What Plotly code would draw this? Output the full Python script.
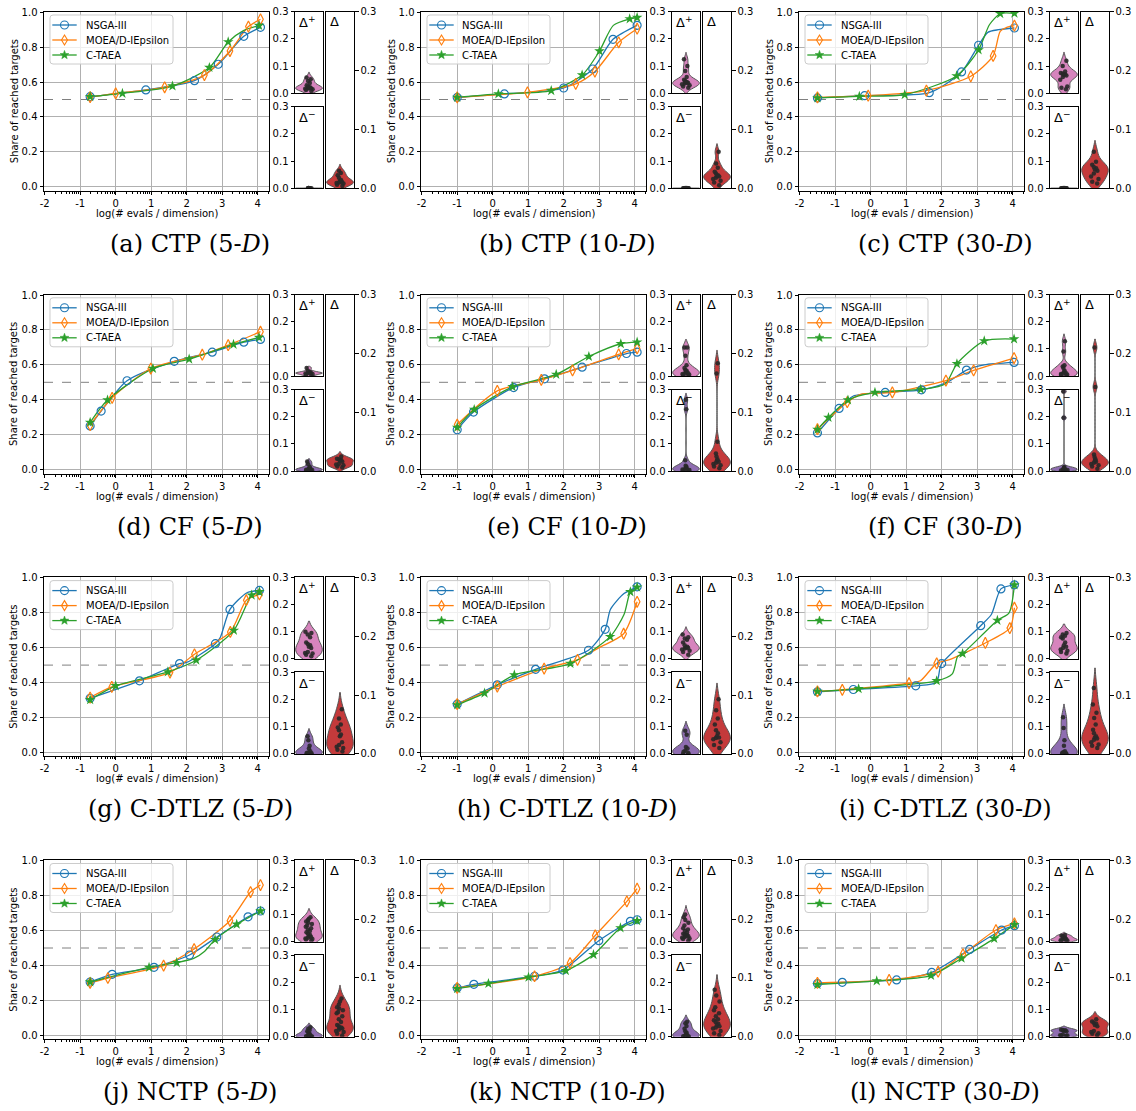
import numpy as np
import plotly.graph_objects as go

W, H = 1136, 1111

# ---------------- general labels / ticks ----------------
ALGOS = ["NSGA-III", "MOEA/D-IEpsilon", "C-TAEA"]
ALGO_COLORS = ["#1f77b4", "#ff7f0e", "#2ca02c"]
ALGO_SYMBOLS = ["circle-open", "diamond-tall-open", "star"]
ALGO_SIZES = [8, 8, 8]
VIOLIN_COLORS = ["#d684bd", "#8f6db1", "#c43a3b"]
VIOLIN_LABELS = ["Δ<sup>+</sup>", "Δ<sup>−</sup>", "Δ"]
X_TICKS = [-2, -1, 0, 1, 2, 3, 4]
X_TICK_TEXT = ["-2", "-1", "0", "1", "2", "3", "4"]
Y_TICKS = [0.0, 0.2, 0.4, 0.6, 0.8, 1.0]
Y_TICK_TEXT = ["0.0", "0.2", "0.4", "0.6", "0.8", "1.0"]
D_TICKS = [0.0, 0.1, 0.2, 0.3]
D_TICK_TEXT = ["0.0", "0.1", "0.2", "0.3"]
THRESHOLD = 0.5
Y_TITLE = "Share of reached targets"
X_TITLE = "log(# evals / dimension)"
CAPTIONS = [
    "(a) CTP (5-<i>D</i>)", "(b) CTP (10-<i>D</i>)", "(c) CTP (30-<i>D</i>)",
    "(d) CF (5-<i>D</i>)", "(e) CF (10-<i>D</i>)", "(f) CF (30-<i>D</i>)",
    "(g) C-DTLZ (5-<i>D</i>)", "(h) C-DTLZ (10-<i>D</i>)", "(i) C-DTLZ (30-<i>D</i>)",
    "(j) NCTP (5-<i>D</i>)", "(k) NCTP (10-<i>D</i>)", "(l) NCTP (30-<i>D</i>)",
]

# ---------------- (a) CTP 5-D ----------------
CTP5_NSGA_X = [-0.72, 0.85, 2.22, 2.89, 3.61, 4.08]
CTP5_NSGA_Y = [0.516, 0.555, 0.608, 0.702, 0.862, 0.914]
CTP5_NSGA_EXTRA = []
CTP5_MOEA_X = [-0.72, 0.0, 1.38, 2.5, 3.22, 3.74, 4.08]
CTP5_MOEA_Y = [0.514, 0.535, 0.57, 0.64, 0.778, 0.918, 0.96]
CTP5_MOEA_EXTRA = []
CTP5_CTAEA_X = [-0.72, 0.19, 1.6, 2.64, 3.17, 4.04]
CTP5_CTAEA_Y = [0.516, 0.535, 0.577, 0.683, 0.83, 0.924]
CTP5_CTAEA_EXTRA = [(3.6, 0.895)]
CTP5_DPLUS = [0.008, 0.012, 0.015, 0.017, 0.018, 0.019, 0.02, 0.022, 0.025, 0.03, 0.038, 0.045, 0.052, 0.058]
CTP5_DMINUS = [0.0, 0.0, 0.0, 0.0005, 0.001, 0.0, 0.0008, 0.0, 0.0003, 0.0]
CTP5_DELTA = [0.004, 0.006, 0.008, 0.009, 0.01, 0.011, 0.012, 0.014, 0.018, 0.022, 0.026, 0.03]

# ---------------- (b) CTP 10-D ----------------
CTP10_NSGA_X = [-1.0, 0.33, 2.0, 2.82, 3.39, 4.07]
CTP10_NSGA_Y = [0.512, 0.532, 0.566, 0.675, 0.845, 0.925]
CTP10_NSGA_EXTRA = []
CTP10_MOEA_X = [-1.0, 0.98, 2.34, 2.88, 3.55, 4.07]
CTP10_MOEA_Y = [0.512, 0.541, 0.589, 0.66, 0.828, 0.906]
CTP10_MOEA_EXTRA = []
CTP10_CTAEA_X = [-1.0, 0.16, 1.65, 2.52, 3.01, 3.86, 4.07]
CTP10_CTAEA_Y = [0.512, 0.532, 0.551, 0.64, 0.778, 0.962, 0.97]
CTP10_CTAEA_EXTRA = [(3.4, 0.925)]
CTP10_DPLUS = [0.02, 0.025, 0.03, 0.033, 0.036, 0.038, 0.04, 0.042, 0.045, 0.05, 0.06, 0.082, 0.1, 0.125]
CTP10_DMINUS = [0.0, 0.0, 0.0005, 0.001, 0.0, 0.0003, 0.0, 0.0008, 0.0]
CTP10_DELTA = [0.005, 0.01, 0.013, 0.016, 0.018, 0.02, 0.021, 0.022, 0.025, 0.028, 0.035, 0.042, 0.062]

# ---------------- (c) CTP 30-D ----------------
CTP30_NSGA_X = [-1.5, -0.17, 1.65, 2.56, 3.04, 4.05]
CTP30_NSGA_Y = [0.509, 0.522, 0.539, 0.658, 0.811, 0.910]
CTP30_NSGA_EXTRA = [(3.3, 0.885), (3.6, 0.9)]
CTP30_MOEA_X = [-1.5, -0.07, 1.57, 2.82, 3.45, 4.05]
CTP30_MOEA_Y = [0.512, 0.522, 0.551, 0.633, 0.75, 0.924]
CTP30_MOEA_EXTRA = [(3.65, 0.89), (3.85, 0.915)]
CTP30_CTAEA_X = [-1.5, -0.32, 0.96, 2.42, 3.04, 3.65, 4.05]
CTP30_CTAEA_Y = [0.509, 0.518, 0.528, 0.635, 0.784, 0.992, 0.994]
CTP30_CTAEA_EXTRA = [(3.35, 0.93)]
CTP30_DPLUS = [0.015, 0.02, 0.025, 0.05, 0.06, 0.065, 0.068, 0.07, 0.072, 0.075, 0.08, 0.1, 0.12]
CTP30_DMINUS = [0.0, 0.0, 0.0005, 0.001, 0.0, 0.0003, 0.0, 0.0008, 0.0]
CTP30_DELTA = [0.008, 0.011, 0.016, 0.02, 0.025, 0.03, 0.032, 0.034, 0.036, 0.04, 0.045, 0.062]

# ---------------- (d) CF 5-D ----------------
CF5_NSGA_X = [-0.72, -0.41, 0.32, 1.65, 2.72, 3.61, 4.08]
CF5_NSGA_Y = [0.25, 0.335, 0.509, 0.62, 0.673, 0.73, 0.746]
CF5_NSGA_EXTRA = []
CF5_MOEA_X = [-0.72, -0.1, 0.99, 2.44, 3.17, 4.08]
CF5_MOEA_Y = [0.254, 0.411, 0.579, 0.658, 0.713, 0.79]
CF5_MOEA_EXTRA = []
CF5_CTAEA_X = [-0.72, -0.23, 1.05, 2.07, 3.32, 4.04]
CF5_CTAEA_Y = [0.27, 0.398, 0.579, 0.633, 0.717, 0.757]
CF5_CTAEA_EXTRA = []
CF5_DPLUS = [0.002, 0.005, 0.008, 0.01, 0.011, 0.012, 0.013, 0.015, 0.02, 0.03]
CF5_DMINUS = [0.0, 0.002, 0.004, 0.005, 0.006, 0.008, 0.01, 0.015, 0.025, 0.035]
CF5_DELTA = [0.006, 0.008, 0.01, 0.011, 0.012, 0.016, 0.018, 0.019, 0.02, 0.021, 0.025]

# ---------------- (e) CF 10-D ----------------
CF10_NSGA_X = [-1.0, -0.54, 0.59, 1.46, 2.52, 3.77, 4.07]
CF10_NSGA_Y = [0.228, 0.329, 0.47, 0.52, 0.587, 0.665, 0.673]
CF10_NSGA_EXTRA = []
CF10_MOEA_X = [-1.0, 0.13, 1.37, 2.25, 3.55, 4.07]
CF10_MOEA_Y = [0.258, 0.451, 0.514, 0.568, 0.66, 0.694]
CF10_MOEA_EXTRA = []
CF10_CTAEA_X = [-1.0, -0.52, 0.56, 1.79, 2.71, 3.61, 4.07]
CF10_CTAEA_Y = [0.241, 0.344, 0.474, 0.545, 0.648, 0.721, 0.73]
CF10_CTAEA_EXTRA = []
CF10_DPLUS = [0.002, 0.004, 0.006, 0.008, 0.01, 0.012, 0.015, 0.02, 0.022, 0.03, 0.04, 0.075, 0.105, 0.105]
CF10_DMINUS = [0.0, 0.002, 0.004, 0.006, 0.008, 0.01, 0.012, 0.016, 0.02, 0.04, 0.227, 0.262]
CF10_DELTA = [0.005, 0.008, 0.01, 0.012, 0.014, 0.016, 0.018, 0.02, 0.025, 0.03, 0.05, 0.166, 0.183]

# ---------------- (f) CF 30-D ----------------
CF30_NSGA_X = [-1.5, -0.89, 0.41, 1.43, 2.70, 4.04]
CF30_NSGA_Y = [0.21, 0.35, 0.442, 0.457, 0.57, 0.614]
CF30_NSGA_EXTRA = [(-0.5, 0.42), (2.15, 0.50), (3.2, 0.6)]
CF30_MOEA_X = [-1.5, -0.66, 0.61, 2.12, 2.90, 4.04]
CF30_MOEA_Y = [0.231, 0.386, 0.442, 0.51, 0.568, 0.639]
CF30_MOEA_EXTRA = [(-0.3, 0.43)]
CF30_CTAEA_X = [-1.5, -1.19, -0.64, 0.12, 1.41, 2.43, 3.20, 4.04]
CF30_CTAEA_Y = [0.229, 0.298, 0.398, 0.442, 0.459, 0.606, 0.737, 0.748]
CF30_CTAEA_EXTRA = [(2.1, 0.49)]
CF30_DPLUS = [0.002, 0.004, 0.006, 0.008, 0.01, 0.012, 0.015, 0.02, 0.03, 0.035, 0.04, 0.09, 0.128]
CF30_DMINUS = [0.0, 0.002, 0.004, 0.006, 0.008, 0.01, 0.012, 0.015, 0.196, 0.293]
CF30_DELTA = [0.004, 0.008, 0.01, 0.012, 0.014, 0.016, 0.018, 0.02, 0.024, 0.028, 0.143, 0.21]

# ---------------- (g) C-DTLZ 5-D ----------------
CDTLZ5_NSGA_X = [-0.72, 0.67, 1.80, 2.81, 3.22, 4.05]
CDTLZ5_NSGA_Y = [0.31, 0.41, 0.509, 0.623, 0.819, 0.928]
CDTLZ5_NSGA_EXTRA = [(2.0, 0.515), (2.95, 0.66), (3.7, 0.915)]
CDTLZ5_MOEA_X = [-0.72, -0.11, 1.53, 2.22, 3.23, 3.68, 4.05]
CDTLZ5_MOEA_Y = [0.314, 0.375, 0.457, 0.562, 0.69, 0.872, 0.905]
CDTLZ5_MOEA_EXTRA = []
CDTLZ5_CTAEA_X = [-0.72, 0.0, 1.47, 2.27, 3.33, 3.83, 4.05]
CDTLZ5_CTAEA_Y = [0.301, 0.381, 0.461, 0.528, 0.699, 0.901, 0.92]
CDTLZ5_CTAEA_EXTRA = []
CDTLZ5_DPLUS = [0.01, 0.015, 0.02, 0.022, 0.025, 0.04, 0.045, 0.05, 0.055, 0.06, 0.08, 0.09, 0.095, 0.1]
CDTLZ5_DMINUS = [0.0, 0.001, 0.002, 0.003, 0.005, 0.01, 0.02, 0.03, 0.05, 0.065]
CDTLZ5_DELTA = [0.004, 0.007, 0.01, 0.012, 0.015, 0.02, 0.03, 0.033, 0.04, 0.045, 0.05, 0.06, 0.076]

# ---------------- (h) C-DTLZ 10-D ----------------
CDTLZ10_NSGA_X = [-1.0, 0.13, 1.21, 2.70, 3.17, 4.07]
CDTLZ10_NSGA_Y = [0.276, 0.387, 0.476, 0.585, 0.705, 0.949]
CDTLZ10_NSGA_EXTRA = [(3.32, 0.82), (3.7, 0.91)]
CDTLZ10_MOEA_X = [-1.0, 0.13, 1.45, 2.39, 3.69, 4.07]
CDTLZ10_MOEA_Y = [0.276, 0.377, 0.48, 0.53, 0.68, 0.863]
CDTLZ10_MOEA_EXTRA = [(3.0, 0.6)]
CDTLZ10_CTAEA_X = [-1.0, -0.23, 0.61, 2.19, 3.31, 3.88, 4.07]
CDTLZ10_CTAEA_Y = [0.272, 0.339, 0.444, 0.509, 0.663, 0.92, 0.947]
CDTLZ10_CTAEA_EXTRA = [(3.7, 0.79)]
CDTLZ10_DPLUS = [0.015, 0.025, 0.03, 0.035, 0.038, 0.04, 0.042, 0.045, 0.05, 0.06, 0.07, 0.075, 0.08, 0.09]
CDTLZ10_DMINUS = [0.0, 0.001, 0.003, 0.008, 0.012, 0.02, 0.025, 0.07, 0.085]
CDTLZ10_DELTA = [0.01, 0.015, 0.02, 0.025, 0.027, 0.028, 0.03, 0.035, 0.04, 0.05, 0.06, 0.074, 0.093]

# ---------------- (i) C-DTLZ 30-D ----------------
CDTLZ30_NSGA_X = [-1.5, -0.49, 1.27, 2.0, 3.1, 3.67, 4.05]
CDTLZ30_NSGA_Y = [0.347, 0.36, 0.381, 0.509, 0.726, 0.937, 0.96]
CDTLZ30_NSGA_EXTRA = [(1.85, 0.40), (1.95, 0.48), (3.4, 0.79)]
CDTLZ30_MOEA_X = [-1.5, -0.8, 1.08, 1.86, 3.23, 3.92, 4.05]
CDTLZ30_MOEA_Y = [0.35, 0.358, 0.396, 0.51, 0.627, 0.712, 0.829]
CDTLZ30_MOEA_EXTRA = [(1.4, 0.41), (2.2, 0.53)]
CDTLZ30_CTAEA_X = [-1.5, -0.34, 1.86, 2.59, 3.57, 4.05]
CDTLZ30_CTAEA_Y = [0.349, 0.364, 0.41, 0.566, 0.756, 0.96]
CDTLZ30_CTAEA_EXTRA = [(2.3, 0.45), (2.45, 0.55), (3.9, 0.8)]
CDTLZ30_DPLUS = [0.02, 0.025, 0.03, 0.035, 0.04, 0.045, 0.05, 0.06, 0.075, 0.08, 0.085, 0.09, 0.095]
CDTLZ30_DMINUS = [0.0, 0.001, 0.002, 0.004, 0.006, 0.01, 0.03, 0.05, 0.095, 0.135]
CDTLZ30_DELTA = [0.01, 0.014, 0.016, 0.02, 0.024, 0.026, 0.028, 0.03, 0.035, 0.041, 0.05, 0.061, 0.07, 0.084, 0.112]

# ---------------- (j) NCTP 5-D ----------------
NCTP5_NSGA_X = [-0.72, -0.1, 1.08, 2.08, 2.85, 3.73, 4.08]
NCTP5_NSGA_Y = [0.305, 0.349, 0.389, 0.46, 0.563, 0.679, 0.712]
NCTP5_NSGA_EXTRA = []
NCTP5_MOEA_X = [-0.72, -0.22, 1.35, 2.21, 3.22, 3.8, 4.08]
NCTP5_MOEA_Y = [0.3, 0.328, 0.399, 0.494, 0.656, 0.821, 0.861]
NCTP5_MOEA_EXTRA = []
NCTP5_CTAEA_X = [-0.72, 0.94, 1.72, 2.8, 3.41, 4.08]
NCTP5_CTAEA_Y = [0.305, 0.389, 0.416, 0.548, 0.636, 0.712]
NCTP5_CTAEA_EXTRA = [(2.2, 0.44), (2.5, 0.48)]
NCTP5_DPLUS = [0.005, 0.008, 0.01, 0.012, 0.015, 0.018, 0.02, 0.025, 0.03, 0.035, 0.04, 0.045, 0.05, 0.055, 0.06, 0.065, 0.07, 0.075, 0.08, 0.085, 0.09]
NCTP5_DMINUS = [0.0, 0.0, 0.001, 0.002, 0.003, 0.005, 0.008, 0.01, 0.015, 0.02, 0.025, 0.03, 0.035]
NCTP5_DELTA = [0.002, 0.005, 0.008, 0.01, 0.012, 0.014, 0.015, 0.016, 0.018, 0.02, 0.025, 0.03, 0.035, 0.04, 0.042, 0.045, 0.048, 0.05, 0.055, 0.06, 0.065]

# ---------------- (k) NCTP 10-D ----------------
NCTP10_NSGA_X = [-1.0, -0.53, 1.18, 1.98, 2.99, 3.88, 4.07]
NCTP10_NSGA_Y = [0.271, 0.292, 0.338, 0.374, 0.542, 0.653, 0.662]
NCTP10_NSGA_EXTRA = []
NCTP10_MOEA_X = [-1.0, 1.18, 2.18, 2.89, 3.78, 4.07]
NCTP10_MOEA_Y = [0.271, 0.338, 0.414, 0.572, 0.767, 0.84]
NCTP10_MOEA_EXTRA = []
NCTP10_CTAEA_X = [-1.0, -0.12, 1.01, 2.06, 2.84, 3.6, 4.07]
NCTP10_CTAEA_Y = [0.267, 0.296, 0.332, 0.37, 0.462, 0.615, 0.656]
NCTP10_CTAEA_EXTRA = []
NCTP10_DPLUS = [0.005, 0.01, 0.012, 0.015, 0.018, 0.02, 0.022, 0.025, 0.028, 0.03, 0.035, 0.04, 0.045, 0.05, 0.06, 0.07, 0.08, 0.09, 0.1]
NCTP10_DMINUS = [0.0, 0.0, 0.001, 0.002, 0.004, 0.006, 0.01, 0.015, 0.02, 0.03, 0.04, 0.05, 0.055]
NCTP10_DELTA = [0.003, 0.006, 0.01, 0.014, 0.016, 0.018, 0.02, 0.022, 0.025, 0.028, 0.03, 0.035, 0.04, 0.045, 0.05, 0.06, 0.07, 0.08]

# ---------------- (l) NCTP 30-D ----------------
NCTP30_NSGA_X = [-1.5, -0.8, 0.73, 1.72, 2.79, 3.69, 4.05]
NCTP30_NSGA_Y = [0.296, 0.303, 0.317, 0.36, 0.492, 0.603, 0.628]
NCTP30_NSGA_EXTRA = []
NCTP30_MOEA_X = [-1.5, 0.52, 1.9, 2.6, 3.53, 4.05]
NCTP30_MOEA_Y = [0.3, 0.317, 0.364, 0.464, 0.603, 0.641]
NCTP30_MOEA_EXTRA = []
NCTP30_CTAEA_X = [-1.5, 0.17, 1.7, 2.56, 3.48, 4.05]
NCTP30_CTAEA_Y = [0.29, 0.311, 0.342, 0.441, 0.554, 0.634]
NCTP30_CTAEA_EXTRA = []
NCTP30_DPLUS = [0.002, 0.004, 0.005, 0.006, 0.008, 0.01, 0.012, 0.015, 0.02, 0.022, 0.025]
NCTP30_DMINUS = [0.003, 0.004, 0.005, 0.006, 0.008, 0.02, 0.022, 0.024, 0.025, 0.026]
NCTP30_DELTA = [0.003, 0.005, 0.006, 0.008, 0.01, 0.018, 0.02, 0.022, 0.024, 0.026, 0.03]

PANELS = [
    ([(CTP5_NSGA_X, CTP5_NSGA_Y, CTP5_NSGA_EXTRA), (CTP5_MOEA_X, CTP5_MOEA_Y, CTP5_MOEA_EXTRA), (CTP5_CTAEA_X, CTP5_CTAEA_Y, CTP5_CTAEA_EXTRA)], [CTP5_DPLUS, CTP5_DMINUS, CTP5_DELTA]),
    ([(CTP10_NSGA_X, CTP10_NSGA_Y, CTP10_NSGA_EXTRA), (CTP10_MOEA_X, CTP10_MOEA_Y, CTP10_MOEA_EXTRA), (CTP10_CTAEA_X, CTP10_CTAEA_Y, CTP10_CTAEA_EXTRA)], [CTP10_DPLUS, CTP10_DMINUS, CTP10_DELTA]),
    ([(CTP30_NSGA_X, CTP30_NSGA_Y, CTP30_NSGA_EXTRA), (CTP30_MOEA_X, CTP30_MOEA_Y, CTP30_MOEA_EXTRA), (CTP30_CTAEA_X, CTP30_CTAEA_Y, CTP30_CTAEA_EXTRA)], [CTP30_DPLUS, CTP30_DMINUS, CTP30_DELTA]),
    ([(CF5_NSGA_X, CF5_NSGA_Y, CF5_NSGA_EXTRA), (CF5_MOEA_X, CF5_MOEA_Y, CF5_MOEA_EXTRA), (CF5_CTAEA_X, CF5_CTAEA_Y, CF5_CTAEA_EXTRA)], [CF5_DPLUS, CF5_DMINUS, CF5_DELTA]),
    ([(CF10_NSGA_X, CF10_NSGA_Y, CF10_NSGA_EXTRA), (CF10_MOEA_X, CF10_MOEA_Y, CF10_MOEA_EXTRA), (CF10_CTAEA_X, CF10_CTAEA_Y, CF10_CTAEA_EXTRA)], [CF10_DPLUS, CF10_DMINUS, CF10_DELTA]),
    ([(CF30_NSGA_X, CF30_NSGA_Y, CF30_NSGA_EXTRA), (CF30_MOEA_X, CF30_MOEA_Y, CF30_MOEA_EXTRA), (CF30_CTAEA_X, CF30_CTAEA_Y, CF30_CTAEA_EXTRA)], [CF30_DPLUS, CF30_DMINUS, CF30_DELTA]),
    ([(CDTLZ5_NSGA_X, CDTLZ5_NSGA_Y, CDTLZ5_NSGA_EXTRA), (CDTLZ5_MOEA_X, CDTLZ5_MOEA_Y, CDTLZ5_MOEA_EXTRA), (CDTLZ5_CTAEA_X, CDTLZ5_CTAEA_Y, CDTLZ5_CTAEA_EXTRA)], [CDTLZ5_DPLUS, CDTLZ5_DMINUS, CDTLZ5_DELTA]),
    ([(CDTLZ10_NSGA_X, CDTLZ10_NSGA_Y, CDTLZ10_NSGA_EXTRA), (CDTLZ10_MOEA_X, CDTLZ10_MOEA_Y, CDTLZ10_MOEA_EXTRA), (CDTLZ10_CTAEA_X, CDTLZ10_CTAEA_Y, CDTLZ10_CTAEA_EXTRA)], [CDTLZ10_DPLUS, CDTLZ10_DMINUS, CDTLZ10_DELTA]),
    ([(CDTLZ30_NSGA_X, CDTLZ30_NSGA_Y, CDTLZ30_NSGA_EXTRA), (CDTLZ30_MOEA_X, CDTLZ30_MOEA_Y, CDTLZ30_MOEA_EXTRA), (CDTLZ30_CTAEA_X, CDTLZ30_CTAEA_Y, CDTLZ30_CTAEA_EXTRA)], [CDTLZ30_DPLUS, CDTLZ30_DMINUS, CDTLZ30_DELTA]),
    ([(NCTP5_NSGA_X, NCTP5_NSGA_Y, NCTP5_NSGA_EXTRA), (NCTP5_MOEA_X, NCTP5_MOEA_Y, NCTP5_MOEA_EXTRA), (NCTP5_CTAEA_X, NCTP5_CTAEA_Y, NCTP5_CTAEA_EXTRA)], [NCTP5_DPLUS, NCTP5_DMINUS, NCTP5_DELTA]),
    ([(NCTP10_NSGA_X, NCTP10_NSGA_Y, NCTP10_NSGA_EXTRA), (NCTP10_MOEA_X, NCTP10_MOEA_Y, NCTP10_MOEA_EXTRA), (NCTP10_CTAEA_X, NCTP10_CTAEA_Y, NCTP10_CTAEA_EXTRA)], [NCTP10_DPLUS, NCTP10_DMINUS, NCTP10_DELTA]),
    ([(NCTP30_NSGA_X, NCTP30_NSGA_Y, NCTP30_NSGA_EXTRA), (NCTP30_MOEA_X, NCTP30_MOEA_Y, NCTP30_MOEA_EXTRA), (NCTP30_CTAEA_X, NCTP30_CTAEA_Y, NCTP30_CTAEA_EXTRA)], [NCTP30_DPLUS, NCTP30_DMINUS, NCTP30_DELTA]),
]

# ---------------- geometry (pixels) ----------------
COL_LEFT = [44, 421, 799]
ROW_TOP = [11.7, 294.5, 577.3, 860.2]
MAIN_W, MAIN_H = 225, 179
MAIN_XRANGE = [-2.02, 4.32]
MAIN_YRANGE = [-0.0229, 1.0034]
DP_BOX = (251, 279, 0, 81.6)      # x0, x1, y0, y1 relative to panel origin
DM_BOX = (251, 279, 95, 176.6)
D_BOX = (282, 310, 0, 176.6)
LEG_BOX = (6, 129, 3.3, 52.3)
LEG_ROW0, LEG_ROW_STEP = 13.3, 15.0
LEG_LINE = (8.3, 32.7)
LEG_TEXT_X = 39.5

FONT = "DejaVu Sans"


def fx(px):
    return px / W


def fy(py):
    return 1 - py / H


def suf(n):
    return "" if n == 1 else str(n)


def path_px(points):
    s = "M " + " L ".join(f"{fx(a):.6f},{fy(b):.6f}" for a, b in points)
    return s + " Z"


def rounded_rect(x0, y0, x1, y1, r):
    P = lambda a, b: f"{fx(a):.6f},{fy(b):.6f}"
    return (f"M {P(x0 + r, y0)} L {P(x1 - r, y0)} Q {P(x1, y0)} {P(x1, y0 + r)} "
            f"L {P(x1, y1 - r)} Q {P(x1, y1)} {P(x1 - r, y1)} "
            f"L {P(x0 + r, y1)} Q {P(x0, y1)} {P(x0, y1 - r)} "
            f"L {P(x0, y0 + r)} Q {P(x0, y0)} {P(x0 + r, y0)} Z")


def legend_glyph(kind, cx, cy, color):
    if kind == 0:
        return dict(type="circle", xref="paper", yref="paper",
                    x0=fx(cx - 4), x1=fx(cx + 4), y0=fy(cy + 4), y1=fy(cy - 4),
                    line=dict(color=color, width=1.1), fillcolor="rgba(0,0,0,0)", layer="above")
    if kind == 1:
        pts = [(cx, cy - 5), (cx + 3, cy), (cx, cy + 5), (cx - 3, cy)]
        return dict(type="path", xref="paper", yref="paper", path=path_px(pts),
                    line=dict(color=color, width=1.1), fillcolor="rgba(0,0,0,0)", layer="above")
    pts = []
    for i in range(10):
        ang = -np.pi / 2 + i * np.pi / 5
        rad = 4.6 if i % 2 == 0 else 1.9
        pts.append((cx + rad * np.cos(ang), cy + rad * np.sin(ang)))
    return dict(type="path", xref="paper", yref="paper", path=path_px(pts),
                line=dict(color=color, width=0.5), fillcolor=color, layer="above")


MINOR = [k + np.log10(m) for k in range(-3, 5) for m in range(2, 10)]
MINOR = [float(v) for v in MINOR if MAIN_XRANGE[0] < v < MAIN_XRANGE[1]]

fig = go.Figure()
layout = dict(
    width=W, height=H, autosize=False,
    margin=dict(l=0, r=0, t=0, b=0, pad=0, autoexpand=False),
    paper_bgcolor="white", plot_bgcolor="white",
    font=dict(family=FONT, size=10, color="black"),
    showlegend=False,
)
annotations = []
shapes = []

for p, (series, deltas) in enumerate(PANELS):
    r, c = divmod(p, 3)
    L, T = COL_LEFT[c], ROW_TOP[r]
    nm, ndp, ndm, nd = p * 4 + 1, p * 4 + 2, p * 4 + 3, p * 4 + 4

    # main axes
    layout["xaxis" + suf(nm)] = dict(
        domain=[fx(L), fx(L + MAIN_W)], range=MAIN_XRANGE, anchor="y" + suf(nm),
        tickmode="array", tickvals=X_TICKS, ticktext=X_TICK_TEXT,
        ticks="outside", ticklen=3, tickcolor="black", tickfont=dict(size=10),
        showgrid=True, gridcolor="#b0b0b0", gridwidth=0.8, automargin=False,
        showline=True, linecolor="black", linewidth=1, mirror=True, zeroline=False,
        minor=dict(tickmode="array", tickvals=MINOR, ticks="outside", ticklen=2,
                   tickcolor="black", showgrid=False),
    )
    layout["yaxis" + suf(nm)] = dict(
        domain=[fy(T + MAIN_H), fy(T)], range=MAIN_YRANGE, anchor="x" + suf(nm),
        tickmode="array", tickvals=Y_TICKS, ticktext=Y_TICK_TEXT,
        ticks="outside", ticklen=3.5, tickcolor="black", tickfont=dict(size=10),
        showgrid=True, gridcolor="#b0b0b0", gridwidth=0.8, automargin=False,
        showline=True, linecolor="black", linewidth=1, mirror=True, zeroline=False,
    )
    shapes.append(dict(type="line", xref="x" + suf(nm), x0=MAIN_XRANGE[0], x1=MAIN_XRANGE[1],
                       yref="y" + suf(nm), y0=THRESHOLD, y1=THRESHOLD, layer="below",
                       line=dict(color="#808080", width=1, dash="dash")))

    for a, (xs, ys, extra) in enumerate(series):
        pts = sorted(list(zip(xs, ys)) + list(extra))
        lx = [q[0] for q in pts]
        ly = [q[1] for q in pts]
        fig.add_trace(go.Scatter(
            x=lx, y=ly, mode="lines", showlegend=False, hoverinfo="skip",
            line=dict(color=ALGO_COLORS[a], width=1.3, shape="spline", smoothing=0.7),
            xaxis="x" + suf(nm), yaxis="y" + suf(nm)))
    for a, (xs, ys, extra) in enumerate(series):
        filled = not ALGO_SYMBOLS[a].endswith("open")
        fig.add_trace(go.Scatter(
            x=xs, y=ys, mode="markers", showlegend=False, name=ALGOS[a],
            marker=dict(symbol=ALGO_SYMBOLS[a], size=ALGO_SIZES[a], color=ALGO_COLORS[a],
                        line=dict(width=0 if filled else 1.2, color=ALGO_COLORS[a])),
            xaxis="x" + suf(nm), yaxis="y" + suf(nm)))

    # legend (drawn as a matplotlib-style box)
    bx0, bx1, by0, by1 = LEG_BOX
    shapes.append(dict(type="path", xref="paper", yref="paper",
                       path=rounded_rect(L + bx0, T + by0, L + bx1, T + by1, 3),
                       fillcolor="rgba(255,255,255,0.8)", line=dict(color="#cccccc", width=1),
                       layer="above"))
    for a in range(3):
        cy = T + LEG_ROW0 + a * LEG_ROW_STEP
        shapes.append(dict(type="line", xref="paper", yref="paper",
                           x0=fx(L + LEG_LINE[0]), x1=fx(L + LEG_LINE[1]), y0=fy(cy), y1=fy(cy),
                           line=dict(color=ALGO_COLORS[a], width=1.3), layer="above"))
        shapes.append(legend_glyph(a, L + (LEG_LINE[0] + LEG_LINE[1]) / 2, cy, ALGO_COLORS[a]))
        annotations.append(dict(text=ALGOS[a], xref="paper", yref="paper",
                                x=fx(L + LEG_TEXT_X), y=fy(cy), xanchor="left", yanchor="middle",
                                showarrow=False, font=dict(size=10, family=FONT)))

    # axis titles & caption
    annotations.append(dict(text=Y_TITLE, xref="paper", yref="paper",
                            x=fx(L - 30), y=fy(T + MAIN_H / 2), textangle=-90,
                            showarrow=False, font=dict(size=10, family=FONT),
                            xanchor="center", yanchor="middle"))
    annotations.append(dict(text=X_TITLE, xref="paper", yref="paper",
                            x=fx(L + MAIN_W / 2), y=fy(T + 201.5),
                            showarrow=False, font=dict(size=10, family=FONT),
                            xanchor="center", yanchor="middle"))
    annotations.append(dict(text=CAPTIONS[p], xref="paper", yref="paper",
                            x=fx(L + 146), y=fy(T + 232),
                            showarrow=False, font=dict(size=24, family="DejaVu Serif"),
                            xanchor="center", yanchor="middle"))

    # violins
    for k, (n, box) in enumerate(zip([ndp, ndm, nd], [DP_BOX, DM_BOX, D_BOX])):
        x0, x1, y0, y1 = box
        layout["xaxis" + suf(n)] = dict(
            domain=[fx(L + x0), fx(L + x1)], range=[-0.5, 0.5], anchor="y" + suf(n),
            showticklabels=False, ticks="", showgrid=False, zeroline=False, automargin=False,
            showline=True, linecolor="black", linewidth=1, mirror=True, fixedrange=True,
        )
        layout["yaxis" + suf(n)] = dict(
            domain=[fy(T + y1), fy(T + y0)], range=[0, 0.3], anchor="x" + suf(n),
            side="right" if k == 2 else "left",
            tickmode="array", tickvals=D_TICKS, ticktext=D_TICK_TEXT,
            ticks="outside", ticklen=3.5, tickcolor="black", tickfont=dict(size=10),
            showgrid=False, zeroline=False, automargin=False,
            showline=True, linecolor="black", linewidth=1, mirror=True,
        )
        fig.add_trace(go.Violin(
            y=deltas[k], x0=0, name="", width=0.95, showlegend=False,
            points="all", pointpos=0, jitter=0.35,
            marker=dict(size=4.5, color="rgba(40,40,40,0.9)"),
            fillcolor=VIOLIN_COLORS[k], opacity=1,
            line=dict(color="#555555", width=1),
            box=dict(visible=False), meanline=dict(visible=False),
            spanmode="soft", hoverinfo="skip",
            xaxis="x" + suf(n), yaxis="y" + suf(n)))
        annotations.append(dict(text=VIOLIN_LABELS[k], xref="paper", yref="paper",
                                x=fx(L + x0 + 2), y=fy(T + y0 + 0.5),
                                xanchor="left", yanchor="top", showarrow=False,
                                font=dict(size=13, family=FONT)))

layout["annotations"] = annotations
layout["shapes"] = shapes
fig.update_layout(**layout)
fig.write_html(
    "out.html",
    post_script=("document.documentElement.style.margin='0';"
                 "document.body.style.margin='0';document.body.style.padding='0';"
                 "document.body.style.overflow='hidden';"),
)
